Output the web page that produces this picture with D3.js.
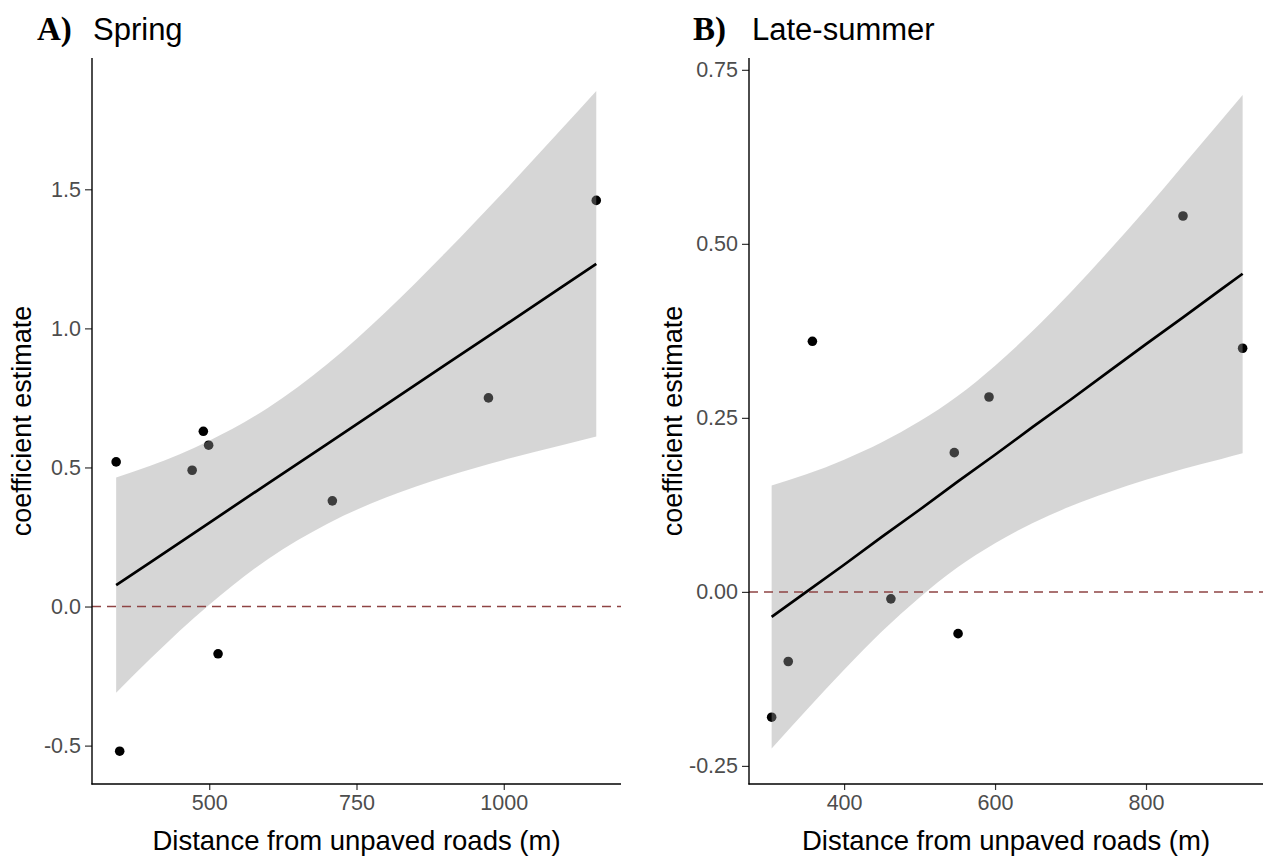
<!DOCTYPE html>
<html>
<head>
<meta charset="utf-8">
<script src="https://cdn.jsdelivr.net/npm/d3@7"></script>
<style>
  html, body { margin: 0; padding: 0; background: #fff; }
  svg { display: block; }
  text { font-family: "Liberation Sans", Arial, sans-serif; }
</style>
</head>
<body>
<svg id="chart" width="1269" height="859"></svg>
<script>
// ---------- Data ----------
// Panel A: Spring
const springDistance = [342, 348, 471, 490, 499, 515, 709, 974, 1157];
const springCoef     = [0.52, -0.52, 0.49, 0.63, 0.58, -0.17, 0.38, 0.75, 1.46];
const springFitDistance = [342, 400, 500, 600, 700, 800, 900, 1000, 1100, 1157];
const springFit      = [0.077, 0.159, 0.301, 0.443, 0.584, 0.726, 0.868, 1.009, 1.151, 1.232];
const springLower    = [-0.310, -0.188, 0.006, 0.171, 0.297, 0.392, 0.466, 0.527, 0.581, 0.611];
const springUpper    = [0.464, 0.506, 0.596, 0.715, 0.871, 1.060, 1.270, 1.491, 1.721, 1.853];
const springXTicks   = [500, 750, 1000];
const springYTicks   = [-0.5, 0.0, 0.5, 1.0, 1.5];

// Panel B: Late-summer
const lateDistance = [304, 326, 358, 462, 546, 551, 592, 849, 928];
const lateCoef     = [-0.18, -0.10, 0.36, -0.01, 0.20, -0.06, 0.28, 0.54, 0.35];
const lateFitDistance = [304, 350, 400, 450, 500, 550, 600, 650, 700, 750, 800, 850, 900, 928];
const lateFit      = [-0.036, 0.000, 0.039, 0.079, 0.118, 0.158, 0.197, 0.237, 0.276, 0.316, 0.356, 0.395, 0.435, 0.457];
const lateLower    = [-0.225, -0.170, -0.112, -0.057, -0.008, 0.035, 0.070, 0.099, 0.123, 0.143, 0.161, 0.177, 0.191, 0.199];
const lateUpper    = [0.153, 0.169, 0.190, 0.215, 0.245, 0.281, 0.325, 0.375, 0.430, 0.489, 0.550, 0.614, 0.678, 0.714];
const lateXTicks   = [400, 600, 800];
const lateYTicks   = [-0.25, 0.00, 0.25, 0.50, 0.75];

const panelLetters = ["A)", "B)"];
const panelTitles  = ["Spring", "Late-summer"];
const xAxisTitle   = "Distance from unpaved roads (m)";
const yAxisTitle   = "coefficient estimate";
const referenceLine = 0;

// ---------- Layout ----------
const svg = d3.select("#chart");

const panels = [
  {
    letter: panelLetters[0], title: panelTitles[0],
    xs: springDistance, ys: springCoef,
    fx: springFitDistance, fy: springFit, lo: springLower, hi: springUpper,
    xTicks: springXTicks, yTicks: springYTicks, yFmt: ".1f",
    xDomain: [301, 1199], yDomain: [-0.638, 1.972],
    left: 92, right: 621, top: 58, bottom: 784,
    letterX: 37, titleX: 93, yTitleX: 22
  },
  {
    letter: panelLetters[1], title: panelTitles[1],
    xs: lateDistance, ys: lateCoef,
    fx: lateFitDistance, fy: lateFit, lo: lateLower, hi: lateUpper,
    xTicks: lateXTicks, yTicks: lateYTicks, yFmt: ".2f",
    xDomain: [274, 955], yDomain: [-0.276, 0.767],
    left: 749, right: 1263, top: 58, bottom: 784,
    letterX: 693, titleX: 752, yTitleX: 673
  }
];

const hy = s => s.replace("\u2212", "-");

panels.forEach(p => {
  const x = d3.scaleLinear().domain(p.xDomain).range([p.left, p.right]);
  const y = d3.scaleLinear().domain(p.yDomain).range([p.bottom, p.top]);
  const g = svg.append("g");

  // points (drawn first, band overlays them like ggplot)
  const pts = p.xs.map((d, i) => ({ x: d, y: p.ys[i] }));
  g.selectAll("circle.pt").data(pts).enter().append("circle")
    .attr("class", "pt")
    .attr("cx", d => x(d.x)).attr("cy", d => y(d.y))
    .attr("r", 4.8).attr("fill", "#000");

  // confidence band
  const band = p.fx.map((d, i) => ({ x: d, lo: p.lo[i], hi: p.hi[i], f: p.fy[i] }));
  g.append("path").datum(band)
    .attr("d", d3.area().curve(d3.curveMonotoneX)
      .x(d => x(d.x)).y0(d => y(d.lo)).y1(d => y(d.hi)))
    .attr("fill", "#999999").attr("fill-opacity", 0.4);

  // fitted line
  g.append("path").datum(band)
    .attr("d", d3.line().x(d => x(d.x)).y(d => y(d.f)))
    .attr("fill", "none").attr("stroke", "#000").attr("stroke-width", 2.7);

  // dashed reference line at 0
  g.append("line")
    .attr("x1", p.left).attr("x2", p.right)
    .attr("y1", y(referenceLine)).attr("y2", y(referenceLine))
    .attr("stroke", "#8f4444").attr("stroke-width", 1.5)
    .attr("stroke-dasharray", "9,6");

  // axes
  const xAxis = d3.axisBottom(x).tickValues(p.xTicks).tickSize(6).tickPadding(5)
    .tickFormat(d => hy(d3.format("d")(d)));
  const yAxis = d3.axisLeft(y).tickValues(p.yTicks).tickSize(7).tickPadding(4)
    .tickFormat(d => hy(d3.format(p.yFmt)(d)));

  const gx = g.append("g").attr("transform", `translate(0,${p.bottom})`).call(xAxis);
  const gy = g.append("g").attr("transform", `translate(${p.left},0)`).call(yAxis);
  [gx, gy].forEach(a => {
    a.select(".domain").remove();
    a.selectAll(".tick line").attr("stroke", "#333").attr("stroke-width", 1.2);
    a.selectAll(".tick text").attr("fill", "#4d4d4d")
      .style("font-size", "21.5px").style("font-family", "'Liberation Sans', Arial, sans-serif");
  });
  // axis lines
  g.append("line").attr("x1", p.left).attr("x2", p.left)
    .attr("y1", p.top).attr("y2", p.bottom + 0.6)
    .attr("stroke", "#000").attr("stroke-width", 1.4);
  g.append("line").attr("x1", p.left - 0.6).attr("x2", p.right)
    .attr("y1", p.bottom).attr("y2", p.bottom)
    .attr("stroke", "#000").attr("stroke-width", 1.4);

  // axis titles
  g.append("text").attr("x", (p.left + p.right) / 2).attr("y", 850)
    .attr("text-anchor", "middle").attr("fill", "#000")
    .style("font-size", "27.5px").text(xAxisTitle);
  g.append("text")
    .attr("transform", `translate(${p.yTitleX},${(p.top + p.bottom) / 2}) rotate(-90)`)
    .attr("text-anchor", "middle").attr("dominant-baseline", "central").attr("fill", "#000")
    .style("font-size", "27px").text(yAxisTitle);

  // panel letter and title
  g.append("text").attr("x", p.letterX).attr("y", 40)
    .attr("fill", "#000")
    .style("font-family", "'Liberation Serif', 'Times New Roman', serif")
    .style("font-weight", "bold").style("font-size", "33px").text(p.letter);
  g.append("text").attr("x", p.titleX).attr("y", 40)
    .attr("fill", "#000").style("font-size", "31px").text(p.title);
});
</script>
</body>
</html>
